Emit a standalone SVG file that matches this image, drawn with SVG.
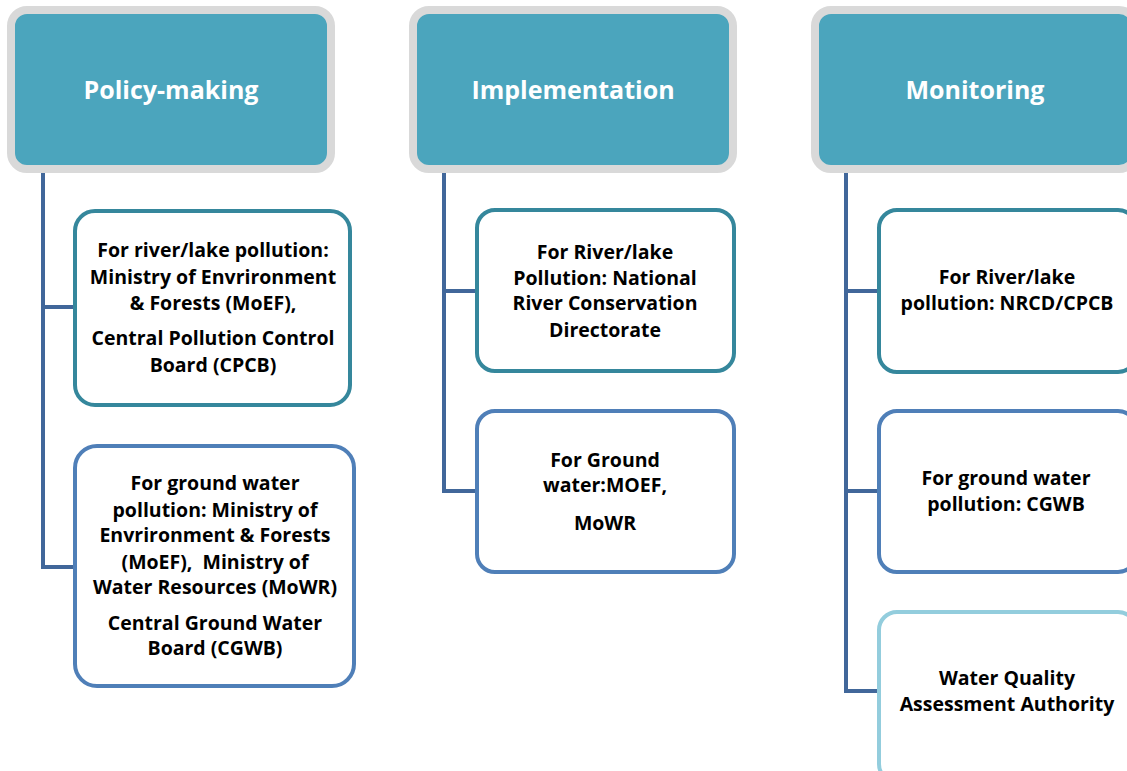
<svg xmlns="http://www.w3.org/2000/svg" width="1127" height="771" viewBox="0 0 1127 771">
<style>
.hdr{fill:#4ba5bd;stroke:#d9d9d9;stroke-width:8}
.ht{font-family:"Open Sans",Lato,sans-serif;font-weight:bold;font-size:25px;fill:#fff;text-anchor:middle}
.box{fill:#fff;stroke-width:4}
.b1{stroke:#35879c}
.b2{stroke:#4f7fb8}
.b3{stroke:#93cddd}
.t{font-family:"Open Sans",Lato,sans-serif;font-weight:bold;font-size:19.5px;fill:#000;text-anchor:middle;white-space:pre}
.c{fill:none;stroke:#41679a;stroke-width:4}
</style>
<rect width="1127" height="771" fill="#fff"/>
<g id="connectors">
<path class="c" d="M43 173 V567 H74 M43 307 H74"/>
<path class="c" d="M444 173 V491 H475 M444 291 H475"/>
<path class="c" d="M846 173 V691 H877 M846 291 H877 M846 491 H877"/>
</g>
<g id="h1"><rect class="hdr" x="11" y="10" width="320" height="159" rx="16"/><text class="ht" x="171" y="99">Policy-making</text></g>
<g id="h2"><rect class="hdr" x="413" y="10" width="320" height="159" rx="16"/><text class="ht" x="573" y="99">Implementation</text></g>
<g id="h3"><rect class="hdr" x="815" y="10" width="320" height="159" rx="16"/><text class="ht" x="975" y="99">Monitoring</text></g>
<g id="p1"><rect class="box b1" x="75" y="211" width="275" height="194" rx="20"/>
<text class="t"><tspan x="213" y="257">For river/lake pollution:</tspan><tspan x="213" y="284">Ministry of Envrironment</tspan><tspan x="213" y="310">&amp; Forests (MoEF),</tspan><tspan x="213" y="345">Central Pollution Control</tspan><tspan x="213" y="372">Board (CPCB)</tspan></text></g>
<g id="p2"><rect class="box b2" x="75" y="446" width="279" height="240" rx="22"/>
<text class="t" xml:space="preserve"><tspan x="215" y="490">For ground water</tspan><tspan x="215" y="517">pollution: Ministry of</tspan><tspan x="215" y="542">Envrironment &amp; Forests</tspan><tspan x="215" y="569">(MoEF),  Ministry of</tspan><tspan x="215" y="594">Water Resources (MoWR)</tspan><tspan x="215" y="630">Central Ground Water</tspan><tspan x="215" y="655">Board (CGWB)</tspan></text></g>
<g id="i1"><rect class="box b1" x="477" y="210" width="257" height="161" rx="18"/>
<text class="t"><tspan x="605" y="259">For River/lake</tspan><tspan x="605" y="285">Pollution: National</tspan><tspan x="605" y="310">River Conservation</tspan><tspan x="605" y="337">Directorate</tspan></text></g>
<g id="i2"><rect class="box b2" x="477" y="411" width="257" height="161" rx="18"/>
<text class="t"><tspan x="605" y="467">For Ground</tspan><tspan x="605" y="492">water:MOEF,</tspan><tspan x="605" y="530">MoWR</tspan></text></g>
<g id="m1"><rect class="box b1" x="879" y="210" width="257" height="162" rx="18"/>
<text class="t"><tspan x="1007" y="284">For River/lake</tspan><tspan x="1007" y="310">pollution: NRCD/CPCB</tspan></text></g>
<g id="m2"><rect class="box b2" x="879" y="411" width="257" height="161" rx="18"/>
<text class="t"><tspan x="1006" y="485">For ground water</tspan><tspan x="1006" y="511">pollution: CGWB</tspan></text></g>
<g id="m3"><rect class="box b3" x="879" y="612" width="257" height="170" rx="18"/>
<text class="t"><tspan x="1007" y="685">Water Quality</tspan><tspan x="1007" y="711">Assessment Authority</tspan></text></g>
</svg>
